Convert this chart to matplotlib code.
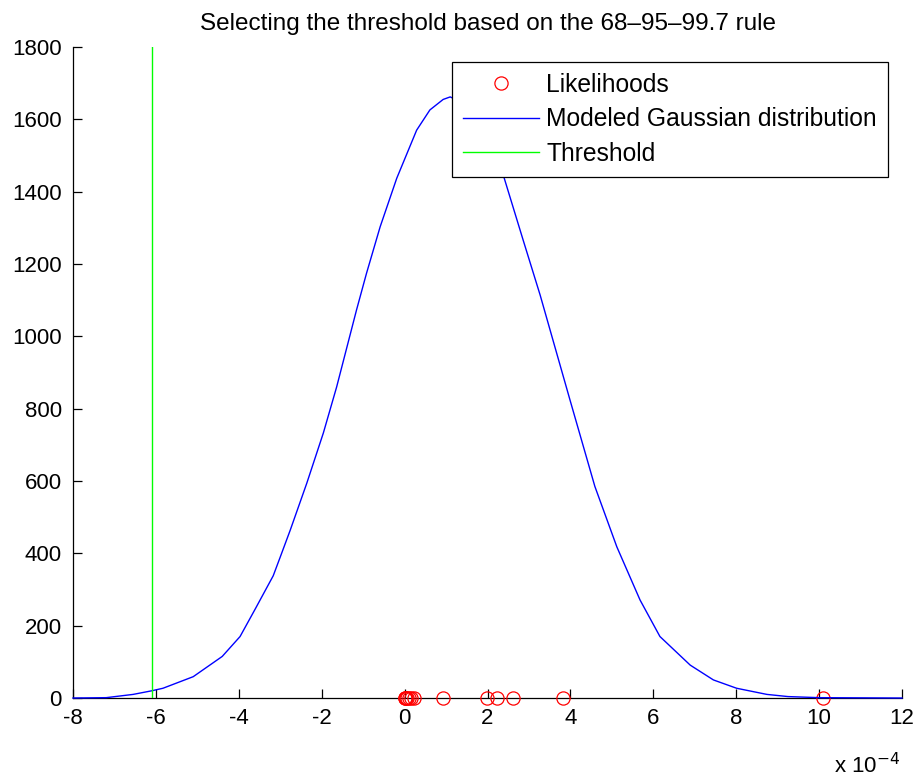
import matplotlib
matplotlib.use('Agg')
import matplotlib.pyplot as plt

# likelihood values (x 1e-4), all drawn at y = 0
likelihoods = [0.0, 0.01, 0.03, 0.05, 0.1, 0.15, 0.22, 0.93, 1.98, 2.22, 2.62, 3.81, 10.09]

# modeled gaussian, points (x in units of 1e-4)
gauss_x = [-8.0, -7.2, -6.55, -6.1, -5.83, -5.1, -4.4, -3.97, -3.6, -3.17, -3.0,
           -2.76, -2.36, -1.96, -1.64, -1.16, -0.92, -0.59, -0.19, 0.29, 0.61,
           0.93, 1.1, 1.5, 2.0, 2.38, 2.86, 3.27, 3.99, 4.59, 5.12, 5.68, 6.16,
           6.89, 7.45, 8.01, 8.74, 9.25, 10.0, 12.0]
gauss_y = [0, 1, 10, 20, 27, 59, 115, 170, 247, 338, 390,
           464, 594, 733, 860, 1073, 1174, 1303, 1437, 1570, 1626,
           1655, 1662, 1640, 1545, 1446, 1266, 1114, 824, 585, 418, 271, 170,
           91, 50, 27, 10, 4, 1, 0]

threshold = -6.1

plt.rcParams['font.family'] = ['Liberation Sans', 'DejaVu Sans']
plt.rcParams['axes.unicode_minus'] = False

fig = plt.figure(figsize=(9.15, 7.78), dpi=100)
ax = fig.add_axes([0.0798, 0.1028, 0.906, 0.8368])

ax.plot(likelihoods, [0] * len(likelihoods), 'o', mfc='none', mec=(1, 0, 0),
        ms=9.5, mew=0.9, label='Likelihoods', zorder=3, clip_on=False)
ax.plot(gauss_x, gauss_y, color=(0, 0, 1), lw=1.0,
        label='Modeled Gaussian distribution', zorder=4, clip_on=False)
ax.plot([threshold, threshold], [0, 1800], color=(0, 1, 0), lw=1.0,
        label='Threshold', zorder=4)

ax.set_xlim(-8, 12)
ax.set_ylim(0, 1800)
ax.set_xticks(range(-8, 13, 2))
ax.set_yticks(range(0, 1801, 200))
ax.tick_params(direction='in', length=6.5, width=0.9, labelsize=16)
ax.tick_params(axis='x', pad=7)
ax.tick_params(axis='y', pad=8)
for s in ['top', 'right']:
    ax.spines[s].set_visible(False)
for s in ['left', 'bottom']:
    ax.spines[s].set_linewidth(0.9)
    ax.spines[s].set_zorder(2)

ax.set_title('Selecting the threshold based on the 68\u201395\u201399.7 rule',
             fontsize=17.5, pad=12)

fig.text(0.9836, 0.016, r'x 10$^{-4}$', fontsize=16, ha='right', va='center')

leg = ax.legend(loc='upper right', bbox_to_anchor=(0.983, 0.977), fontsize=17.7,
                frameon=True, fancybox=False, edgecolor='black',
                handlelength=3.1, borderpad=0.45, labelspacing=0.42,
                handletextpad=0.3, borderaxespad=0)
leg.get_frame().set_linewidth(0.9)
leg.get_frame().set_alpha(1)

fig.savefig('out.png', dpi=100, facecolor='white')
